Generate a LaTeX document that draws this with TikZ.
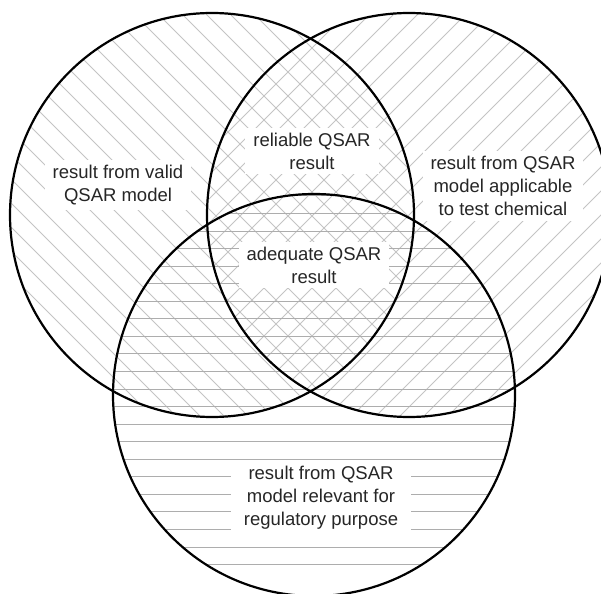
\documentclass[tikz,border=0pt]{standalone}
\usepackage{fontspec}
\setmainfont{Liberation Sans}
\definecolor{hatchlight}{HTML}{C4C4C4}
\definecolor{hatchmid}{HTML}{ADADAD}
\tikzset{
  setring/.style={circle, draw=black, line width=2.2pt, minimum size=#1, inner sep=0pt},
  diaghatch/.style={draw=hatchlight, line width=0.9pt},
  flathatch/.style={draw=hatchmid, line width=0.9pt},
  setlabel/.style={fill=white, align=center, inner xsep=8pt, inner ysep=5pt,
    font=\fontsize{18.5}{23}\selectfont, text=black!85}
}
\begin{document}
\begin{tikzpicture}[x=1pt,y=-1pt]
  \useasboundingbox (0,0) rectangle (601,593);
  % hatching of the left set: falling diagonals
  \begin{scope}
    \clip (212,215) circle (202);
    \foreach \c in {-624,-600,...,624} \draw[diaghatch] (\c,0) -- (\c+700,700);
  \end{scope}
  % hatching of the right set: rising diagonals
  \begin{scope}
    \clip (409,215) circle (202);
    \foreach \c in {0,24,...,1320} \draw[diaghatch] (\c,0) -- (\c-700,700);
  \end{scope}
  % hatching of the lower set: horizontal rules
  \begin{scope}
    \clip (314,395) circle (201);
    \foreach \k in {0,...,22} \draw[flathatch] (0,564.5-17.55*\k) -- (601,564.5-17.55*\k);
  \end{scope}
  % the three sets
  \node[setring=404] (valid) at (212,215) {};
  \node[setring=404] (applic) at (409,215) {};
  \node[setring=402] (relev) at (314,395) {};
  % labels
  \node[setlabel] (lvalid) at (118,185) {result from valid\\QSAR model};
  \node[setlabel] (lrel) at (312,151) {reliable QSAR\\result};
  \node[setlabel] (lapplic) at (503,186) {result from QSAR\\model applicable\\to test chemical};
  \node[setlabel] (ladeq) at (314,265) {adequate QSAR\\result};
  \node[setlabel, inner xsep=13pt] (lrelev) at (321,498) {result from QSAR\\model relevant for\\regulatory purpose};
\end{tikzpicture}
\end{document}
